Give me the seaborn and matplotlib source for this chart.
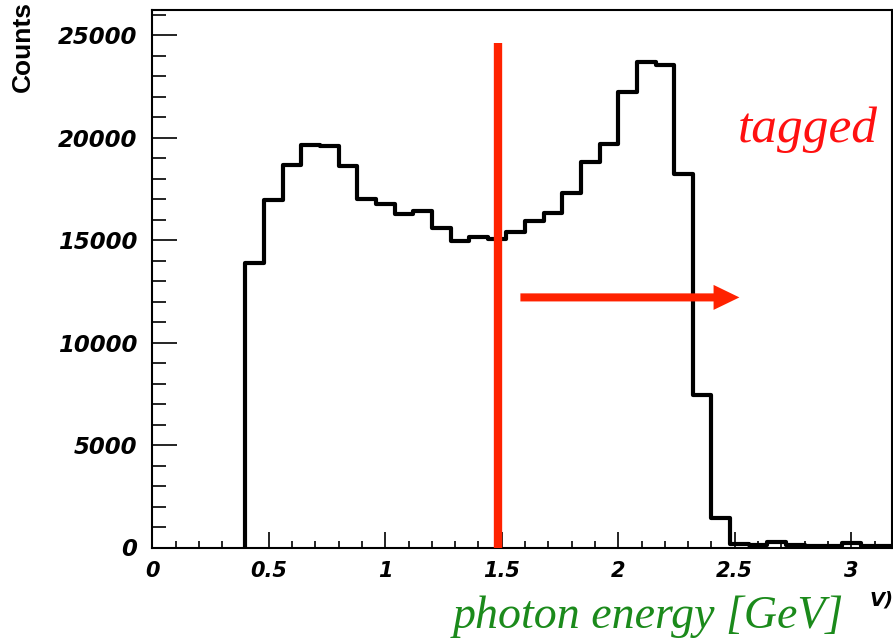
import numpy as np
import pandas as pd
import matplotlib
matplotlib.use("Agg")
import matplotlib.pyplot as plt
from matplotlib.ticker import MultipleLocator
import seaborn as sns

# histogram contents, bin width 0.08 GeV starting at 0.40 GeV
bin_edges = [round(0.40 + 0.08 * i, 2) for i in range(36)]
counts = [13900, 16950, 18650, 19650, 19580, 18600, 17000, 16750, 16250, 16400,
          15600, 14950, 15150, 15050, 15400, 15950, 16300, 17300, 18800, 19700,
          22200, 23700, 23550, 18200, 7450, 1450,
          180, 130, 250, 100, 60, 50, 220, 80, 70]
bin_centers = [(a + b) / 2 for a, b in zip(bin_edges[:-1], bin_edges[1:])]

# tagging threshold marker and arrow
cut_energy = 1.485
cut_top = 24600
arrow_start = 1.58
arrow_end = 2.52
arrow_level = 12200

df = pd.DataFrame({"energy": bin_centers, "counts": counts})

sns.set_style("white")
fig = plt.figure(figsize=(8.93, 6.39), dpi=100)
ax = fig.add_axes([152.3 / 893, 1 - 547.5 / 639, (892 - 152.3) / 893, (547.5 - 10) / 639])

sns.histplot(data=df, x="energy", weights="counts", bins=bin_edges,
             element="step", fill=False, color="black", linewidth=3, ax=ax)
# close the histogram outline at its first edge
ax.vlines(bin_edges[0], 0, counts[0], color="black", linewidth=3)

ax.vlines(cut_energy, 0, cut_top, color="#ff2200", linewidth=6, zorder=5)
ax.annotate("", xy=(arrow_end, arrow_level), xytext=(arrow_start, arrow_level),
            arrowprops=dict(arrowstyle="simple,head_width=0.9,head_length=0.93,tail_width=0.29",
                            mutation_scale=20, color="#ff2200", lw=0,
                            shrinkA=0, shrinkB=0), zorder=5)

ax.set_xlim(0, 3.175)
ax.set_ylim(0, 26220)
ax.set_xlabel("")
ax.set_ylabel("")

ax.xaxis.set_major_locator(MultipleLocator(0.5))
ax.xaxis.set_minor_locator(MultipleLocator(0.1))
ax.yaxis.set_major_locator(MultipleLocator(5000))
ax.yaxis.set_minor_locator(MultipleLocator(1000))
ax.set_xticks([0, 0.5, 1, 1.5, 2, 2.5, 3])
ax.set_xticklabels(["0", "0.5", "1", "1.5", "2", "2.5", "3"])

ax.tick_params(axis="x", which="major", direction="in", length=11.5, width=1.2, pad=9.5,
               colors="black")
ax.tick_params(axis="x", which="minor", direction="in", length=5, width=1.2, colors="black")
ax.tick_params(axis="y", which="major", direction="in", length=18, width=1.2, pad=11,
               colors="black")
ax.tick_params(axis="y", which="minor", direction="in", length=10, width=1.2, colors="black")
ax.tick_params(axis="both", which="both", bottom=True, left=True, top=False, right=False)

for lab in ax.get_yticklabels():
    lab.set_fontfamily("DejaVu Sans")
    lab.set_fontweight("heavy")
    lab.set_fontstyle("italic")
    lab.set_fontsize(16.5)
    lab.set_color("black")
for lab in ax.get_xticklabels():
    lab.set_fontfamily("DejaVu Sans")
    lab.set_fontweight("heavy")
    lab.set_fontstyle("italic")
    lab.set_fontsize(15)
    lab.set_color("black")

for sp in ax.spines.values():
    sp.set_linewidth(1.5)
    sp.set_color("black")

fig.text(23 / 893, 1 - 47 / 639, "Counts", rotation=90, ha="center", va="center",
         family="Liberation Sans", weight="bold", fontsize=19, color="black")

fig.text(808 / 893, 1 - 130 / 639, "tagged", ha="center", va="center",
         family="Liberation Serif", style="italic", fontsize=37, color="#ff1010")
fig.text(648 / 893, 1 - 617 / 639, "photon energy [GeV]", ha="center", va="center",
         family="Liberation Serif", style="italic", fontsize=33, color="#1b8a1b")
fig.text(870 / 893, 1 - 600 / 639, "V)", ha="left", va="center",
         family="DejaVu Sans", weight="bold", style="italic", fontsize=14, color="black")

fig.savefig("out.png", dpi=100)
